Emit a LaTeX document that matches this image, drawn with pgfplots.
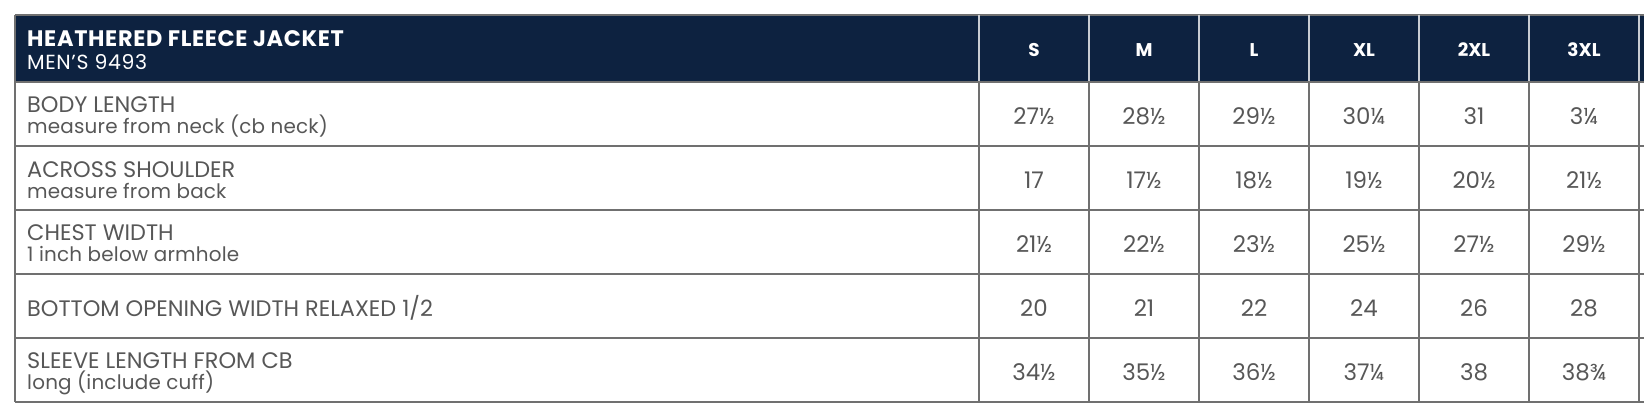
\documentclass[border=0pt]{standalone}
\usepackage{pgfplots}
\pgfplotsset{compat=1.18}
\usepackage{fontspec}
\setmainfont{Poppins}
\definecolor{navy}{HTML}{0D2240}
\definecolor{rule}{HTML}{707070}
\definecolor{hrule}{HTML}{C8CCD2}
\definecolor{ink}{HTML}{575757}
\newcommand{\capfont}{\fontsize{22.5}{22.5}\selectfont}
\newcommand{\lowfont}{\fontsize{20}{20}\selectfont\addfontfeatures{LetterSpace=1}}
\newcommand{\valfont}{\fontsize{23}{23}\selectfont}
\newcommand{\headfont}{\fontsize{22.5}{22.5}\selectfont\bfseries\addfontfeatures{LetterSpace=3}}
\newcommand{\subfont}{\fontsize{20.5}{20.5}\selectfont\addfontfeatures{LetterSpace=3}}
\newcommand{\sizefont}{\fontsize{18.5}{18.5}\selectfont\bfseries}

\begin{document}
\begin{tikzpicture}
\begin{axis}[
  width=1644bp, height=414bp, scale only axis,
  xmin=0, xmax=1644, ymin=0, ymax=414, y dir=reverse,
  xtick=\empty, ytick=\empty, axis line style={draw=none},
  unbounded coords=jump,
]
% header band
\addplot[fill=navy, draw=none] coordinates {(15,15) (1700,15) (1700,82) (15,82) (15,15)};
\addplot[rule, line width=1.2bp] coordinates {(15,15) (1700,15)};
% header column rules
\addplot[hrule, line width=1.3bp] coordinates {
  (979,15) (979,82) (nan,nan) (1089,15) (1089,82) (nan,nan)
  (1199,15) (1199,82) (nan,nan) (1309,15) (1309,82) (nan,nan)
  (1419,15) (1419,82) (nan,nan) (1529,15) (1529,82) (nan,nan)
  (1639,15) (1639,82)};
% body rules
\addplot[rule, line width=1.3bp] coordinates {
  (15,82) (1700,82) (nan,nan) (15,146) (1700,146) (nan,nan)
  (15,210) (1700,210) (nan,nan) (15,274) (1700,274) (nan,nan)
  (15,338) (1700,338) (nan,nan) (15,402) (1700,402)};
\addplot[rule, line width=1.3bp] coordinates {
  (15,15) (15,402) (nan,nan)
  (979,82) (979,402) (nan,nan) (1089,82) (1089,402) (nan,nan)
  (1199,82) (1199,402) (nan,nan) (1309,82) (1309,402) (nan,nan)
  (1419,82) (1419,402) (nan,nan) (1529,82) (1529,402) (nan,nan)
  (1639,82) (1639,402)};

% header title
\addplot[draw=none, nodes near coords, point meta=explicit symbolic,
  every node near coord/.append style={anchor=base west, inner sep=0pt, text=white, font=\headfont}]
  table[col sep=comma, row sep=\\, meta=t] {
  x,y,t\\
  27,47,HEATHERED FLEECE JACKET\\
  };
\addplot[draw=none, nodes near coords, point meta=explicit symbolic,
  every node near coord/.append style={anchor=base west, inner sep=0pt, text=white, font=\subfont}]
  table[col sep=comma, row sep=\\, meta=t] {
  x,y,t\\
  27,70,MEN’S 9493\\
  };
% size headers
\addplot[draw=none, nodes near coords, point meta=explicit symbolic,
  every node near coord/.append style={anchor=base, inner sep=0pt, text=white, font=\sizefont}]
  table[col sep=comma, row sep=\\, meta=t] {
  x,y,t\\
  1034,57,S\\
  1144,57,M\\
  1254,57,L\\
  1364,57,XL\\
  1474,57,2XL\\
  1584,57,3XL\\
  };
% row labels, upper lines
\addplot[draw=none, nodes near coords, point meta=explicit symbolic,
  every node near coord/.append style={anchor=base west, inner sep=0pt, text=ink, font=\capfont}]
  table[col sep=comma, row sep=\\, meta=t] {
  x,y,t\\
  27,112,BODY LENGTH\\
  27,177,ACROSS SHOULDER\\
  27,240,CHEST WIDTH\\
  27,316,BOTTOM OPENING WIDTH RELAXED 1/2\\
  27,368,SLEEVE LENGTH FROM CB\\
  };
% row labels, notes
\addplot[draw=none, nodes near coords, point meta=explicit symbolic,
  every node near coord/.append style={anchor=base west, inner sep=0pt, text=ink, font=\lowfont}]
  table[col sep=comma, row sep=\\, meta=t] {
  x,y,t\\
  27,133,measure from neck (cb neck)\\
  27,198,measure from back\\
  27,261,1 inch below armhole\\
  27,389,long (include cuff)\\
  };
% measurements
\addplot[draw=none, nodes near coords, point meta=explicit symbolic,
  every node near coord/.append style={anchor=base, inner sep=0pt, text=ink, font=\valfont}]
  table[col sep=comma, row sep=\\, meta=t] {
  x,y,t\\
  1034,124,27½\\ 1144,124,28½\\ 1254,124,29½\\ 1364,124,30¼\\ 1474,124,31\\ 1584,124,3¼\\
  1034,188,17\\ 1144,188,17½\\ 1254,188,18½\\ 1364,188,19½\\ 1474,188,20½\\ 1584,188,21½\\
  1034,252,21½\\ 1144,252,22½\\ 1254,252,23½\\ 1364,252,25½\\ 1474,252,27½\\ 1584,252,29½\\
  1034,316,20\\ 1144,316,21\\ 1254,316,22\\ 1364,316,24\\ 1474,316,26\\ 1584,316,28\\
  1034,380,34½\\ 1144,380,35½\\ 1254,380,36½\\ 1364,380,37¼\\ 1474,380,38\\ 1584,380,38¾\\
  };
\end{axis}
\end{tikzpicture}
\end{document}
